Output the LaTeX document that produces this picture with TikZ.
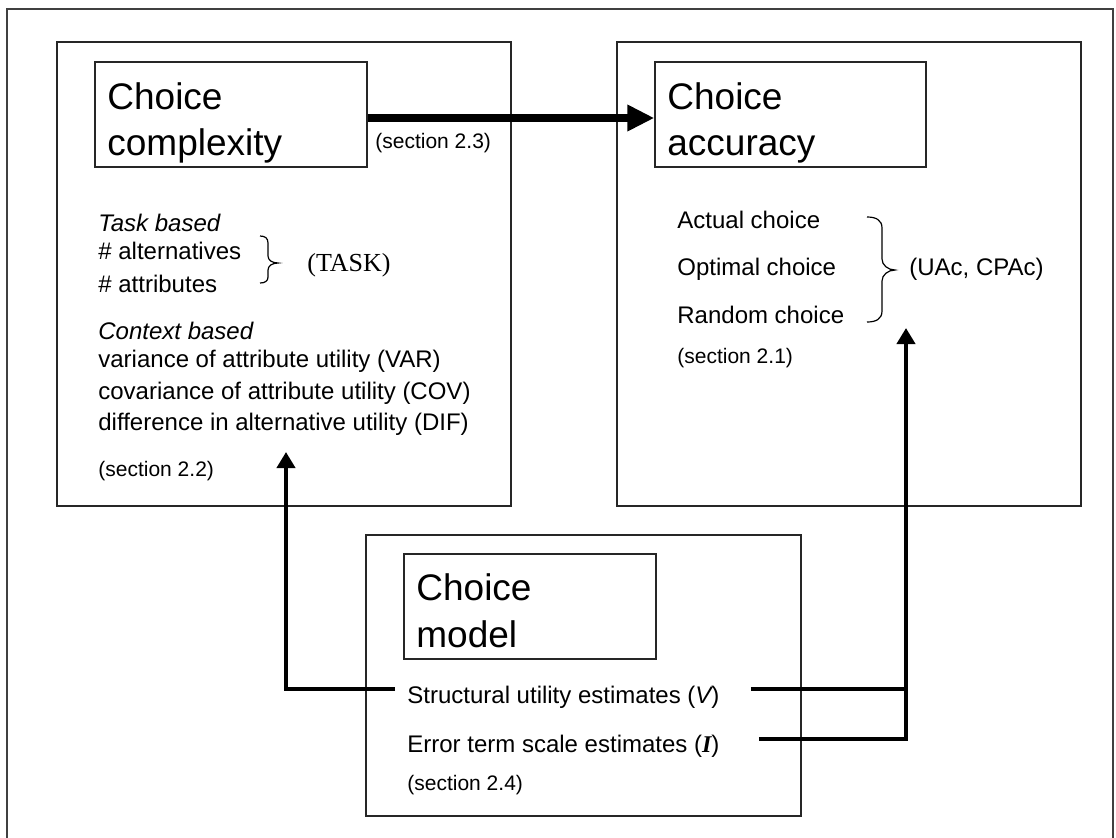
\documentclass[tikz,border=0pt]{standalone}
\usepackage{fontspec}
\setmainfont{Liberation Sans}
\newfontfamily\timesf{Liberation Serif}
\usetikzlibrary{arrows.meta,fit}
\begin{document}
\begin{tikzpicture}[x=0.5pt,y=-0.5pt,
  frame/.style={draw=black!75, line width=1pt, inner sep=0pt},
  box/.style={draw=black!85, line width=0.7pt, inner sep=0pt},
  titletxt/.style={anchor=base west, inner sep=0pt, font=\fontsize{18.5}{22}\selectfont},
  txt/.style={anchor=base west, inner sep=0pt, font=\fontsize{12}{14}\selectfont},
  smalltxt/.style={anchor=base west, inner sep=0pt, font=\fontsize{10.5}{12}\selectfont},
  seriftxt/.style={anchor=base west, inner sep=0pt, font=\timesf\fontsize{13}{15}\selectfont},
  bigarrow/.style={line width=4pt, -{Triangle[length=13.5pt,width=12.5pt]}},
  arr/.style={line width=2pt, -{Triangle[length=8pt,width=9pt]}},
  conn/.style={line width=2pt},
  bracestyle/.style={draw=black, line width=0.6pt}
]
\useasboundingbox (0,0) rectangle (1116,837);

% outer frame
\node[frame, fit={(7,9)(1113,860)}] (outer) {};

% --- Choice complexity ---
\node[box, fit={(57,42)(511,506)}] (lb) {};
\node[box, fit={(95,62)(367,167)}] (cc) {};
\node[titletxt] (cc1) at (107,109) {Choice};
\node[titletxt] (cc2) at (107,155) {complexity};
\node[smalltxt] (s23) at (375,148) {(section 2.3)};

\node[txt, font=\fontsize{12}{14}\selectfont\itshape] (tb) at (98,231) {Task based};
\node[txt] (alt) at (98,259) {\# alternatives};
\node[txt] (att) at (98,292) {\# attributes};
\draw[bracestyle] (260,236) .. controls (265,236) and (268,238) .. (268,243) -- (268,256)
  .. controls (268,260) and (272,263) .. (278,263)
  .. controls (272,263) and (268,266) .. (268,270) -- (268,277)
  .. controls (268,281) and (265,283) .. (260,283);
\node[seriftxt] (task) at (307,271) {(TASK)};

\node[txt, font=\fontsize{12}{14}\selectfont\itshape] (cb) at (98,339) {Context based};
\node[txt] (var) at (98,367) {variance of attribute utility (VAR)};
\node[txt] (cov) at (98,399) {covariance of attribute utility (COV)};
\node[txt] (dif) at (98,430) {difference in alternative utility (DIF)};
\node[smalltxt] (s22) at (98,476) {(section 2.2)};

% --- Choice accuracy ---
\node[box, fit={(617,42)(1081,506)}] (rb) {};
\node[box, fit={(655,62)(926,167)}] (ca) {};
\node[titletxt] (ca1) at (667,109) {Choice};
\node[titletxt] (ca2) at (667,155) {accuracy};

\node[txt] (act) at (677,228) {Actual choice};
\node[txt] (opt) at (677,275) {Optimal choice};
\node[txt] (rnd) at (677,323) {Random choice};
\node[smalltxt] (s21) at (677,363) {(section 2.1)};
\draw[bracestyle] (867,217) .. controls (876,217) and (882,220) .. (882,228) -- (882,259)
  .. controls (882,265) and (888,270) .. (895,270)
  .. controls (888,270) and (882,275) .. (882,281) -- (882,311)
  .. controls (882,319) and (876,322) .. (867,322);
\node[txt] (uac) at (909,275) {(UAc, CPAc)};

% --- Choice model ---
\node[box, fit={(366,535)(801,816)}] (bb) {};
\node[box, fit={(404,554)(656,659)}] (cm) {};
\node[titletxt] (cm1) at (416,600) {Choice};
\node[titletxt] (cm2) at (416,647) {model};
\node[txt] (su) at (407,703) {Structural utility estimates ({\itshape V})};
\node[txt] (eu) at (407,752) {Error term scale estimates ({\timesf\bfseries\itshape I})};
\node[smalltxt] (s24) at (407,790) {(section 2.4)};

% --- connectors ---
\draw[bigarrow] ([yshift=-1.75pt]cc.east) -- ([yshift=-1.75pt]ca.west);

\coordinate (dtip) at (286,452);
\draw[arr] ([shift={(-12,-14)}]su.base west) -| (dtip);

\coordinate (atip) at (906,328);
\draw[conn] ([shift={(31,-14)}]su.base east) coordinate (s1) -- ([xshift=1pt]s1 -| atip);
\draw[arr] ([shift={(39,-13)}]eu.base east) -| (atip);
\end{tikzpicture}
\end{document}
